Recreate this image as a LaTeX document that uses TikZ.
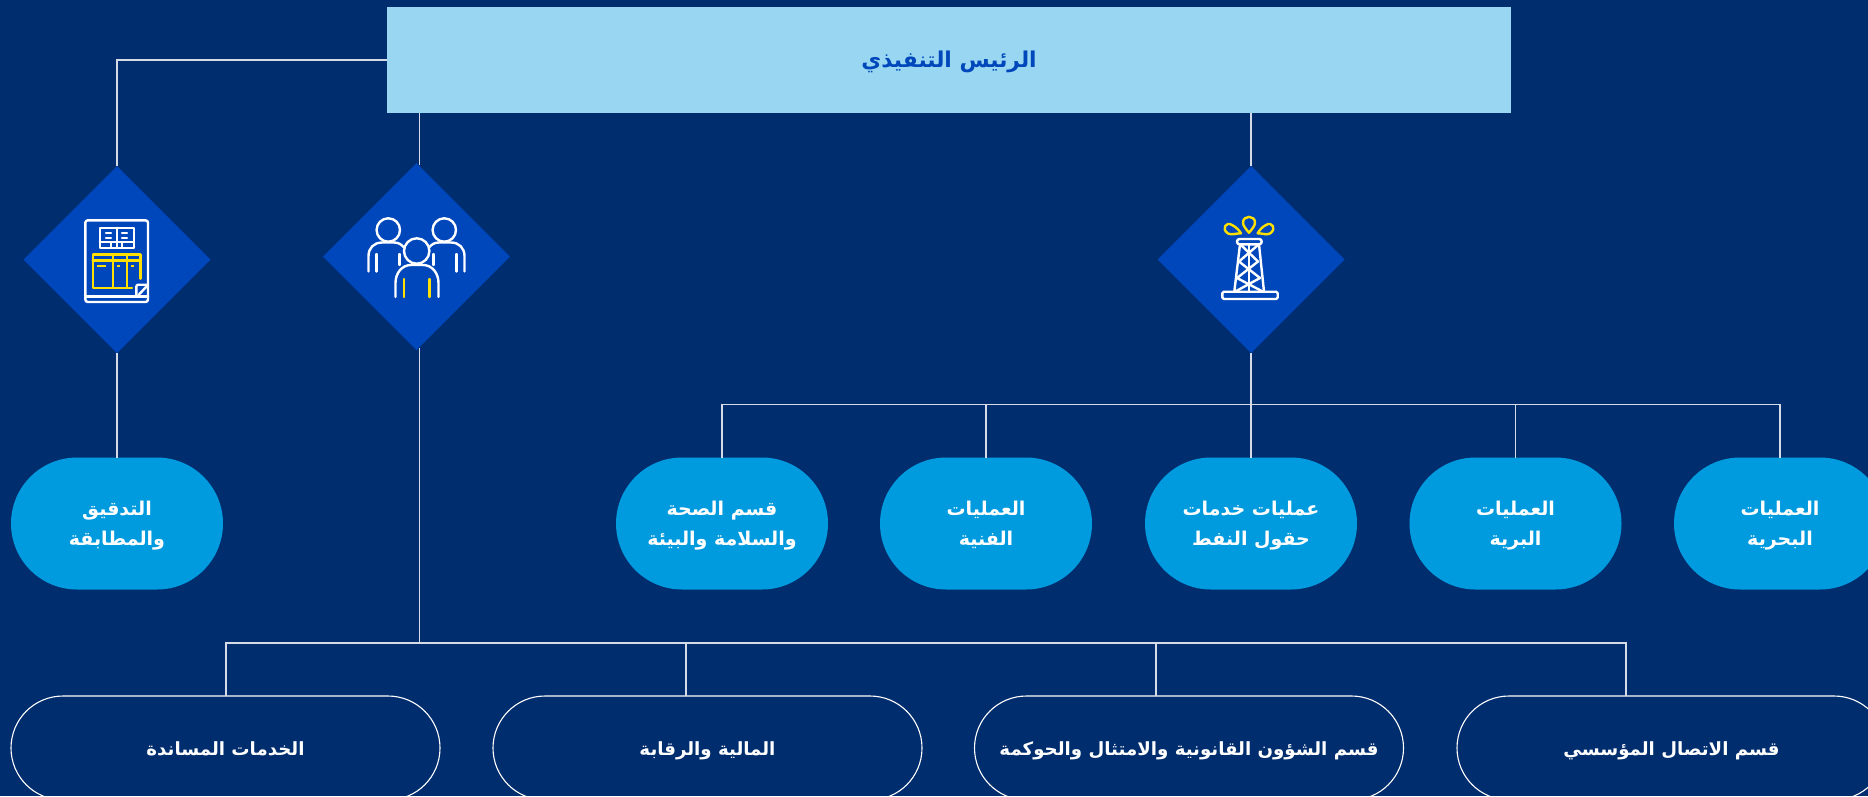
\documentclass[tikz,border=0pt]{standalone}
\usepackage{fontspec}
\usetikzlibrary{shapes.geometric}
\TeXXeTstate=1
\newfontfamily\arabicfont[Script=Arabic]{DejaVu Sans}
\newcommand{\artxt}[1]{\vrule height 20pt depth 6pt width 0pt\beginR #1\endR}
\definecolor{bgblue}{HTML}{002D6E}
\definecolor{diablue}{HTML}{0047BB}
\definecolor{skyrect}{HTML}{99D6F2}
\definecolor{pillblue}{HTML}{009ADE}
\definecolor{iconyel}{HTML}{FFE000}
\definecolor{linegrey}{HTML}{D5DCE8}
\tikzset{
  base/.style={inner sep=0pt,outer sep=0pt,align=center},
  ceobox/.style={base,fill=skyrect,text=diablue,minimum width=1124.5pt,minimum height=106pt,font=\arabicfont\bfseries\fontsize{21.8}{30}\selectfont},
  dia/.style={diamond,aspect=1,fill=diablue,minimum width=187pt,minimum height=187pt,inner sep=0pt,outer sep=0pt},
  pillfill/.style={base,rectangle,rounded corners=66pt,fill=pillblue,text=white,minimum width=212pt,minimum height=132pt,font=\arabicfont\bfseries\fontsize{19}{30}\selectfont},
  pilloutline/.style={base,rectangle,rounded corners=52pt,draw=white,line width=1.1pt,text=white,minimum width=429pt,minimum height=104pt,font=\arabicfont\bfseries\fontsize{18.2}{30}\selectfont},
  conn/.style={draw=linegrey,line width=1.2pt},
  iw/.style={draw=white,line width=2.4pt,line cap=round,line join=round},
  iy/.style={draw=iconyel,line width=2.4pt,line cap=round,line join=round},
}
\begin{document}
\begin{tikzpicture}[x=1pt,y=-1pt]
\fill[bgblue] (0,0) rectangle (1868,796);
\useasboundingbox (0,0) rectangle (1868,796);
\clip (0,0) rectangle (1868,796);
% named junctions
\coordinate (busA) at (1251,404.5);
\coordinate (busB) at (419.3,643);
\coordinate (ceoB) at (419.3,113);
\coordinate (diaBtop) at (419.3,165);
\coordinate (diaBbot) at (419.3,348);
\node[ceobox] (ceo) at (949,60) {\artxt{الرئيس التنفيذي}};
\node[dia] (d1) at (117,259.5) {};
\node[dia] (d2) at (416.5,256.5) {};
\node[dia] (d3) at (1251,259.5) {};
\node[pillfill] (p0) at (117,523.5) {\artxt{التدقيق}\\\artxt{والمطابقة}};
\node[pillfill] (p1) at (722,523.5) {\artxt{قسم الصحة}\\\artxt{والسلامة والبيئة}};
\node[pillfill] (p2) at (986,523.5) {\artxt{العمليات}\\\artxt{الفنية}};
\node[pillfill] (p3) at (1251,523.5) {\artxt{عمليات خدمات}\\\artxt{حقول النفط}};
\node[pillfill] (p4) at (1515.5,523.5) {\artxt{العمليات}\\\artxt{البرية}};
\node[pillfill] (p5) at (1780,523.5) {\artxt{العمليات}\\\artxt{البحرية}};
\node[pilloutline] (o1) at (225.5,748) {\artxt{الخدمات المساندة}};
\node[pilloutline] (o2) at (707.5,748) {\artxt{المالية والرقابة}};
\node[pilloutline] (o3) at (1189,748) {\artxt{قسم الشؤون القانونية والامتثال والحوكمة}};
\node[pilloutline] (o4) at (1671.5,748) {\artxt{قسم الاتصال المؤسسي}};
% connectors
\draw[conn] (ceo.west) -| (d1.north);
\draw[conn] (d1.south) -- (p0.north);
\draw[conn] (ceoB) -- (diaBtop);
\draw[conn] (ceo.south -| d3.north) -- (d3.north);
\draw[conn] (d3.south) -- (p3.north);
\draw[conn] (p1.north) |- (busA) -| (p5.north);
\draw[conn] (p2.north) -- (p2.north |- busA);
\draw[conn] (p4.north) -- (p4.north |- busA);
\draw[conn] (diaBbot) -- (busB);
\coordinate (o1d) at (226,696);
\coordinate (o2d) at (686,696);
\coordinate (o3d) at (1156,696);
\coordinate (o4d) at (1626,696);
\draw[conn] (o1d) |- (busB) -| (o4d);
\draw[conn] (o2d) -- (o2d |- busB);
\draw[conn] (o3d) -- (o3d |- busB);
% icon: document with table
\draw[iw,rounded corners=2.5pt] (136.3,302) -- (85.3,302) -- (85.3,220.3) -- (148,220.3) -- (148,302) -- cycle;
\draw[iw] (85.3,296.3) -- (148,296.3);
\draw[iw,rounded corners=2pt] (136.3,296.3) -- (136.3,284.7) -- (148,284.7);
\draw[iw] (138.5,295) -- (147,286);
\draw[iw] (99.7,227.7) rectangle (133.7,248);
\draw[iw] (99.7,242) -- (133.7,242);
\draw[iw] (111,242) -- (111,248) (122,242) -- (122,248);
\draw[iw] (116.7,227.7) -- (116.7,248);
\draw[iw] (106,233) -- (111,233) (106,238) -- (111,238) (122,233) -- (127,233) (122,238) -- (127,238);
\draw[iy] (132,288) -- (92.7,288) -- (92.7,254.3) -- (140.3,254.3) -- (140.3,278.7);
\draw[iy] (92.7,260.3) -- (140.3,260.3);
\draw[iy] (112.7,254.3) -- (112.7,288) (127,254.3) -- (127,288);
\draw[iy,line cap=butt,line width=2.6pt] (97,266) -- (106,266) (117,266) -- (120,266) (131,266) -- (134,266);
% icon: three people
\draw[iw] (388.3,230) circle (11.7);
\draw[iw] (444.3,230) circle (11.7);
\draw[iw] (416.7,251) circle (12.7);
\draw[iw] (368.5,271.5) -- (368.5,256) .. controls (368.5,248) and (374,242.5) .. (382,242.5) -- (394,242.5) .. controls (398,242.5) and (401,244) .. (403.5,247);
\draw[iw] (464.5,271.5) -- (464.5,256) .. controls (464.5,248) and (459,242.5) .. (451,242.5) -- (439,242.5) .. controls (435,242.5) and (432,244) .. (429.5,247);
\draw[iw] (376.5,254) -- (376.5,271.5) (456.5,254) -- (456.5,271.5);
\draw[iw] (399.5,254) -- (399.5,265) (433.5,254) -- (433.5,265);
\draw[iw] (395.5,297) -- (395.5,283) .. controls (395.5,273) and (402,265) .. (411,265) -- (423,265) .. controls (432,265) and (438.5,273) .. (438.5,283) -- (438.5,297);
\draw[iy] (404,279) -- (404,297) (429.5,279) -- (429.5,297);
% icon: oil derrick
\draw[iy] (1249,232.7) .. controls (1246,229) and (1243,226) .. (1243,222.5) .. controls (1243,215) and (1255,215) .. (1255,222.5) .. controls (1255,226) and (1252,229) .. (1249,232.7) -- cycle;
\draw[iy] (1241,233.3) .. controls (1237,233) and (1232,235.5) .. (1228,233.5) .. controls (1221,229) and (1226,221) .. (1232,225) .. controls (1236,227) and (1239,230) .. (1241,233.3) -- cycle;
\draw[iy] (1257.7,233.3) .. controls (1262,233) and (1266,235.5) .. (1270,233.5) .. controls (1277,229) and (1272,221) .. (1266,225) .. controls (1262,227) and (1259.5,230) .. (1257.7,233.3) -- cycle;
\draw[iw,rounded corners=2.5pt] (1237,239) rectangle (1261.7,244.3);
\draw[iw] (1240,244.3) -- (1234.3,291.7) (1259,244.3) -- (1264,291.7);
\draw[iw] (1249,244.3) -- (1249,291.7);
\draw[iw] (1241,245) -- (1258,261.5) -- (1237,278) -- (1263,291.7);
\draw[iw] (1258,245) -- (1239,261.5) -- (1260,278) -- (1235,291.7);
\draw[iw,rounded corners=1.5pt] (1222.3,291.7) rectangle (1277.7,299);
\end{tikzpicture}
\end{document}
